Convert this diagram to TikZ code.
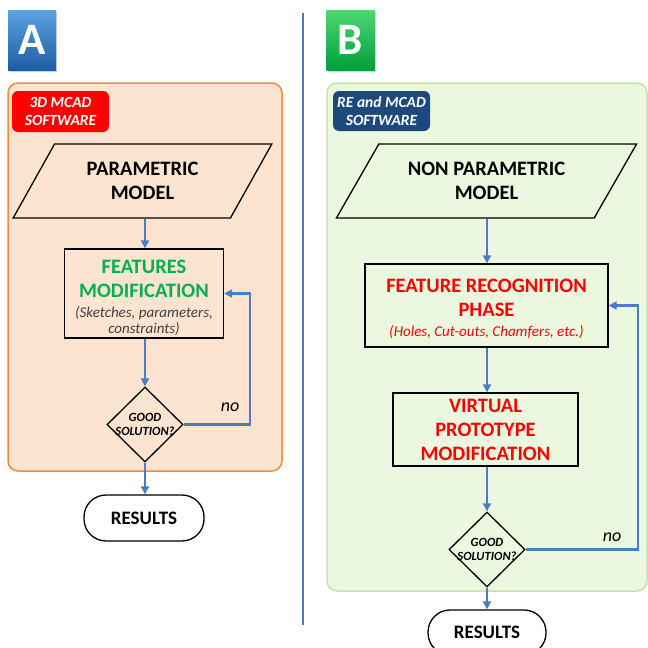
\documentclass[tikz,border=0pt]{standalone}
\usepackage{fontspec}
\setmainfont{Carlito}
\usetikzlibrary{shapes.geometric,arrows.meta,shadows}
\definecolor{peach}{HTML}{FCE4D1}
\definecolor{peachline}{HTML}{F08C3C}
\definecolor{mint}{HTML}{EBF7DF}
\definecolor{mintline}{HTML}{C5E4A8}
\definecolor{flowblue}{HTML}{4A7EC2}
\definecolor{navy}{HTML}{1F497D}
\definecolor{featgreen}{HTML}{00B050}
\definecolor{notegray}{HTML}{404040}
\definecolor{atop}{HTML}{5BA3E3}
\definecolor{abot}{HTML}{1F5CA3}
\definecolor{btop}{HTML}{4FD672}
\definecolor{bbot}{HTML}{00A03C}
\newcommand\smallnote[1]{{\mdseries\itshape\fontsize{15}{16}\selectfont
  \begin{tabular}[t]{@{}c@{}}#1\end{tabular}}}

\begin{document}
\begin{tikzpicture}[x=1pt,y=-1pt,line width=1.3pt,
  panel/.style={draw,rounded corners=10pt,line width=1.5pt,inner sep=0pt},
  tag/.style={rounded corners=6pt,text=white,align=center,inner sep=0pt,
    font=\bfseries\itshape\fontsize{15.5}{18}\selectfont},
  letter/.style={minimum width=48,minimum height=60,inner sep=0pt,text=white,
    font=\bfseries\fontsize{45}{45}\selectfont,
    drop shadow={opacity=.35,shadow xshift=1pt,shadow yshift=-1.5pt}},
  data/.style={draw,trapezium,trapezium stretches=true,minimum height=74,
    inner sep=0pt,align=center,font=\bfseries\fontsize{20.5}{24}\selectfont},
  stepbox/.style={draw,inner sep=0pt,align=center,font=\bfseries\fontsize{20.5}{24}\selectfont},
  test/.style={draw,diamond,inner sep=-4pt,minimum width=76,minimum height=75,align=center,
    font=\bfseries\itshape\fontsize{12.5}{14}\selectfont},
  finish/.style={draw,rounded corners=22pt,minimum width=120,minimum height=46,
    font=\bfseries\fontsize{19}{22}\selectfont},
  flow/.style={flowblue,line width=2.3pt,-{Triangle[length=8pt,width=8pt]}},
  note/.style={font=\itshape\fontsize{18}{20}\selectfont}]
\useasboundingbox (0,0) rectangle (648,648);
\clip (0,0) rectangle (648,648);

\node[letter,top color=atop,bottom color=abot] (boxA) at (32,40) {A};
\node[letter,top color=btop,bottom color=bbot] (boxB) at (350.5,40) {B};
\draw[flowblue,line width=1.4pt] (303,13) -- (303,625);

\node[panel,draw=peachline,fill=peach,minimum width=274,minimum height=388] (panelA) at (145,277) {};
\node[panel,draw=mintline,fill=mint,minimum width=320,minimum height=508] (panelB) at (487,337) {};
\node[tag,fill=red,minimum width=97,minimum height=41] (tagA) at (60.5,111.5) {3D MCAD\\SOFTWARE};
\node[tag,fill=navy,minimum width=97,minimum height=40] (tagB) at (381.5,111) {RE and MCAD\\SOFTWARE};

\node[data,trapezium left angle=55,trapezium right angle=125,minimum width=259] (paramA) at (142.5,181) {PARAMETRIC\\MODEL};
\node[stepbox,text=featgreen,minimum width=159,minimum height=83] (featA) at (144,293.5)
  {\rule{0pt}{24pt}FEATURES\\MODIFICATION\\[-4pt]
   \color{notegray}\smallnote{(Sketches, parameters,\\constraints)}};
\node[test] (decA) at (145,424.5) {GOOD\\SOLUTION?};
\node[finish] (resA) at (144,518) {RESULTS};
\node[note] (noA) at (230,407) {no};

\draw[flow] (paramA.south -| decA) -- (featA.north -| decA);
\draw[flow] (featA.south -| decA) -- (decA.north);
\draw[flow] (decA.east) -- ++(66,0) |- (featA.east);
\draw[flow] (decA.south) -- (resA.north -| decA);

\node[data,trapezium left angle=50.5,trapezium right angle=129.5,minimum width=301] (paramB) at (486.5,181) {NON PARAMETRIC\\MODEL};
\node[stepbox,text=red,minimum width=243,minimum height=83] (recogB) at (486.5,305.5)
  {\rule{0pt}{23pt}FEATURE RECOGNITION\\PHASE\\[-4pt]
   \smallnote{(Holes, Cut-outs, Chamfers, etc.)}};
\node[stepbox,text=red,minimum width=185,minimum height=73] (protoB) at (485.5,429.5)
  {VIRTUAL\\PROTOTYPE\\MODIFICATION};
\node[test] (decB) at (487,549.5) {GOOD\\SOLUTION?};
\node[finish,minimum width=118,minimum height=45] (resB) at (487,632.5) {RESULTS};
\node[note] (noB) at (612,537) {no};

\draw[flow] (paramB.south -| decB) -- (recogB.north -| decB);
\draw[flow] (recogB.south -| decB) -- (protoB.north -| decB);
\draw[flow] (protoB.south -| decB) -- (decB.north);
\draw[flow] (decB.east) -- ++(112,0) |- (recogB.east);
\draw[flow] (decB.south) -- (resB.north);
\end{tikzpicture}
\end{document}
